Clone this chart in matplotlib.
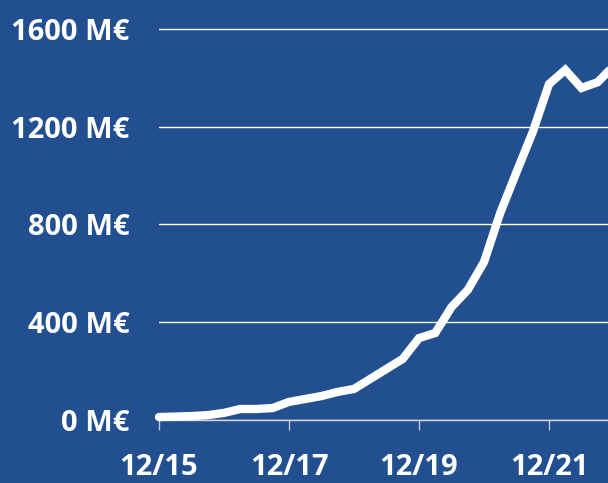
import numpy as np
import matplotlib.pyplot as plt

# quarterly values, from 12/15 onwards (M€)
quarters = np.arange(29)
values = [12, 14, 16, 20, 29, 45, 45, 49, 74, 86, 98, 115, 127, 168, 209, 250,
          335, 356, 462, 532, 646, 847, 1014, 1178, 1374, 1432, 1358, 1382, 1450]
tick_pos = [0, 8, 16, 24]
tick_labels = ['12/15', '12/17', '12/19', '12/21']
y_ticks = [0, 400, 800, 1200, 1600]

bg = '#214f8f'
plt.rcParams['font.family'] = ['Open Sans', 'DejaVu Sans']

fig = plt.figure(figsize=(6.08, 4.83), dpi=100, facecolor=bg)
ax = fig.add_axes([159 / 608, 63 / 483, 1 - 159 / 608, 420 / 483])
ax.set_facecolor(bg)

ax.plot(quarters, values, color='white', lw=6, solid_capstyle='round',
        solid_joinstyle='miter', clip_on=False, zorder=3)

ax.set_xlim(0, 449 / 16.25)
ax.set_ylim(0, 1718)

ax.set_yticks(y_ticks)
ax.set_yticklabels([f'{v} M€' for v in y_ticks])
ax.set_xticks(tick_pos)
ax.set_xticklabels(tick_labels)

ax.grid(axis='y', color='white', lw=1)
ax.set_axisbelow(True)
for s in ['top', 'right', 'left']:
    ax.spines[s].set_visible(False)
ax.spines['bottom'].set_color('#d0d8e6')
ax.spines['bottom'].set_linewidth(1)

ax.tick_params(axis='y', length=0, pad=21, labelsize=21, labelcolor='white')
ax.tick_params(axis='x', length=7, width=1, color='#c0c8da', pad=17,
               labelsize=21, labelcolor='white')
for lab in ax.get_xticklabels() + ax.get_yticklabels():
    lab.set_fontweight('bold')

fig.savefig('out.png', dpi=100, facecolor=bg)
